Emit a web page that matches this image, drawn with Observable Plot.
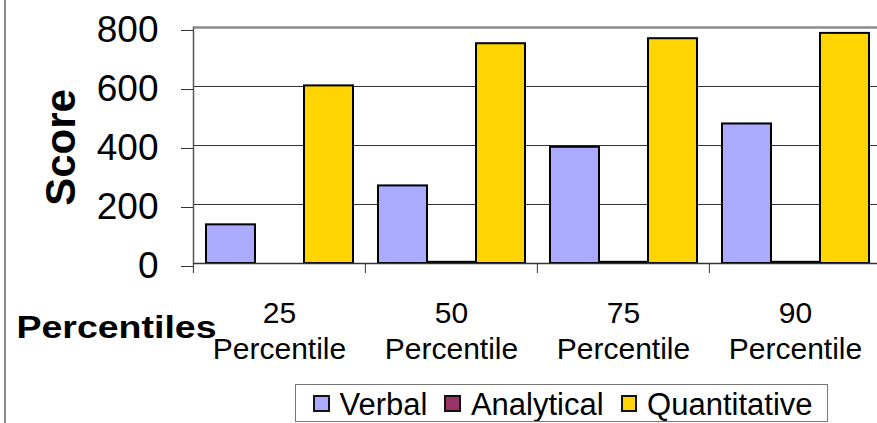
<!DOCTYPE html>
<html>
<head>
<meta charset="utf-8">
<script src="https://cdn.jsdelivr.net/npm/d3@7"></script>
<script src="https://cdn.jsdelivr.net/npm/@observablehq/plot@0.6"></script>
<style>
  html, body { margin: 0; padding: 0; background: #fff; overflow: hidden; }
  #wrap { position: relative; width: 877px; height: 423px; overflow: hidden; font-family: "Liberation Sans", Arial, sans-serif; }
  #chart { position: absolute; left: 0; top: 0; }
  #border { position: absolute; left: 4px; top: 0; width: 1.5px; height: 423px; background: #8a8a8a; }
  #legend { position: absolute; left: 295px; top: 384px; width: 533px; height: 37.5px; box-sizing: border-box;
            border: 1px solid #777; display: flex; align-items: flex-start; padding-left: 17px; font-size: 31px; color: #000; overflow: hidden; }
  .item { display: flex; align-items: flex-start; margin-right: 17px; }
  .sw { width: 12.5px; height: 12.5px; border: 2px solid #111; margin-top: 10px; margin-right: 10px; flex: none; }
  .lab { line-height: 33px; padding-top: 2.5px; white-space: nowrap; }
</style>
</head>
<body>
<div id="wrap">
  <div id="chart"></div>
  <div id="border"></div>
  <div id="legend"></div>
</div>
<script>
const categories = ["25 Percentile", "50 Percentile", "75 Percentile", "90 Percentile"];
const seriesNames = ["Verbal", "Analytical", "Quantitative"];
const verbal = [131, 263, 394, 473];
const analytical = [null, 4, 4, 4];
const quantitative = [602, 745, 762, 780];
const yTicks = [0, 200, 400, 600, 800];
const colors = ["#aaaaff", "#993366", "#ffd400"];
const yTitle = "Score";
const xTitle = "Percentiles";

const seriesValues = [verbal, analytical, quantitative];
const rows = [];
categories.forEach((c, i) => {
  seriesNames.forEach((s, j) => {
    const v = seriesValues[j][i];
    if (v != null) rows.push({cat: c, series: s, value: v});
  });
});

const W = 877, H = 423, ML = 192, MR = -4;
const step = (W - ML - MR) / categories.length;

const plot = Plot.plot({
  width: W,
  height: H,
  marginTop: 27,
  marginBottom: 160,
  marginLeft: ML,
  marginRight: MR,
  style: {fontFamily: "'Liberation Sans', Arial, sans-serif", background: "transparent", overflow: "visible", color: "#000"},
  fx: {domain: categories, padding: 0, axis: null, label: null},
  x: {domain: seriesNames, paddingInner: 0, paddingOuter: 0.25, axis: null, label: null},
  y: {domain: [0, 800], axis: null, label: null},
  color: {domain: seriesNames, range: colors},
  marks: [
    Plot.gridY(yTicks.filter(t => t > 0 && t < 800), {stroke: "#333", strokeOpacity: 1, strokeWidth: 1}),
    Plot.gridY([800], {stroke: "#8c8c8c", strokeOpacity: 1, strokeWidth: 2.5}),
    Plot.barY(rows, {fx: "cat", x: "series", y: "value", fill: "series", stroke: "#000", strokeWidth: 2}),
    Plot.ruleY([0], {stroke: "#333", strokeWidth: 1.5}),
    Plot.frame({anchor: "left", fx: [categories[0]], stroke: "#555", strokeWidth: 1.5}),
    Plot.axisY({ticks: yTicks, tickSize: 12, tickPadding: 23, fontSize: 37, dy: 3, label: null, stroke: "#333"}),
    Plot.axisFx({anchor: "bottom", tickSize: 10, tickFormat: () => "", dx: -step / 2, label: null, stroke: "#333"}),
    Plot.axisFx({anchor: "bottom", tickSize: 0, tickPadding: 33, fontSize: 30, lineHeight: 1.22,
                 tickFormat: d => d.replace(" ", "\n"), label: null}),
    Plot.text([yTitle], {fx: [categories[0]], frameAnchor: "left", rotate: -90, dx: -132, dy: 2,
                         fontSize: 42, fontWeight: "bold", textAnchor: "middle", lineAnchor: "middle", fill: "#000"}),
    Plot.text([xTitle], {fx: [categories[0]], frameAnchor: "bottom-left", dx: -177, dy: 74,
                         fontSize: 31, fontWeight: "bold", textAnchor: "start", lineAnchor: "bottom", fill: "#000"})
  ]
});
document.getElementById("chart").appendChild(plot);

d3.select(plot).selectAll("text")
  .filter(function() { return this.textContent === xTitle; })
  .attr("textLength", 200)
  .attr("lengthAdjust", "spacingAndGlyphs");

const legend = d3.select("#legend");
seriesNames.forEach((s, j) => {
  const it = legend.append("div").attr("class", "item");
  it.append("div").attr("class", "sw").style("background", colors[j]);
  it.append("span").attr("class", "lab").text(s);
});
</script>
</body>
</html>
